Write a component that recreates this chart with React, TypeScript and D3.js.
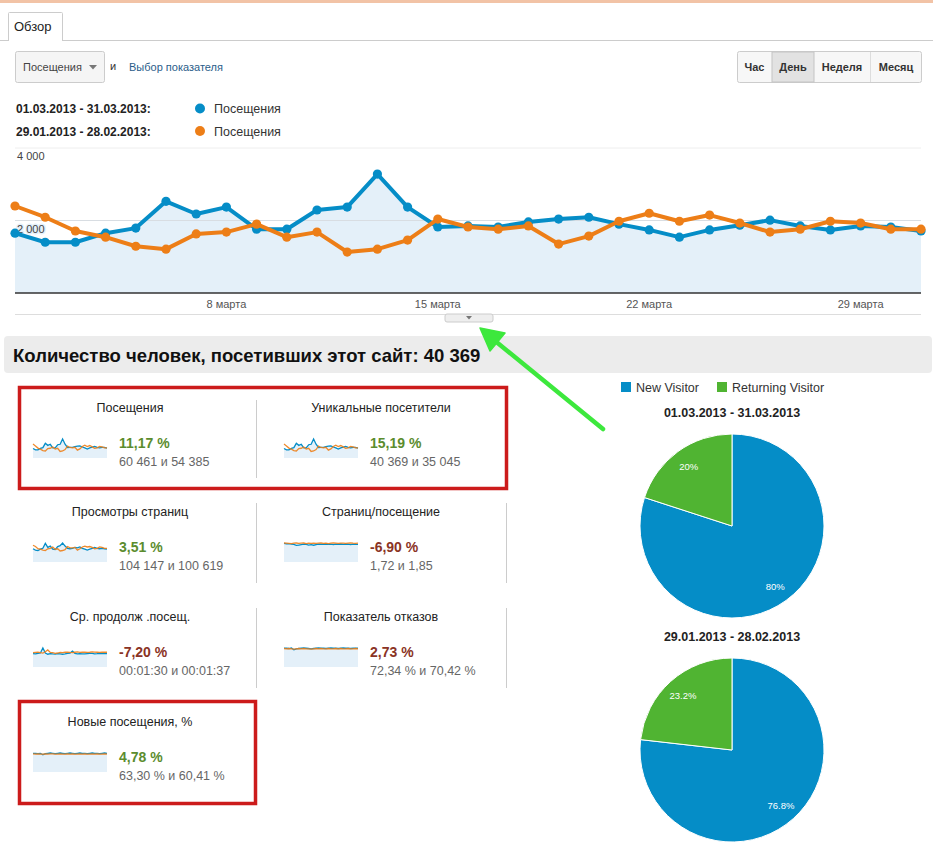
import * as d3 from 'd3'

const W = 933, H = 851
const FONT = '"Liberation Sans", Arial, sans-serif'
const BLUE = '#058dc7', ORANGE = '#ed7e17', GREEN = '#50b432'

// main chart: visits per day, March 2013 vs previous period
const VISITS_CUR = [1650, 1400, 1400, 1650, 1790, 2530, 2180, 2370, 1760, 1760, 2290, 2370, 3280, 2370, 1820, 1850,
  1820, 1960, 2040, 2090, 1900, 1740, 1540, 1740, 1870, 2010, 1850, 1740, 1850, 1820, 1710]
const VISITS_PREV = [2400, 2090, 1710, 1540, 1290, 1210, 1630, 1680, 1900, 1540, 1680, 1130, 1210, 1460, 2040, 1820,
  1760, 1850, 1350, 1570, 1980, 2200, 1980, 2150, 1930, 1680, 1760, 1980, 1930, 1760, 1760]
const X_TICKS = [8, 15, 22, 29]
const X_TICK_LABELS = ['8 марта', '15 марта', '22 марта', '29 марта']
const Y_TICKS = [2000, 4000]
const Y_TICK_LABELS = ['2 000', '4 000']

// sparklines for the metric cards
const PV_CUR = [3000, 2700, 2600, 2900, 3100, 4200, 3300, 3600, 2900, 2800, 3500, 3700, 4300, 3600, 3100, 3000,
  3100, 3300, 3200, 3400, 3100, 2900, 2700, 2900, 3100, 3300, 3100, 3000, 3100, 3000, 2900]
const PV_PREV = [3800, 3500, 3000, 2900, 2700, 2600, 3000, 3100, 3400, 2900, 3000, 2500, 2600, 2800, 3500, 3200,
  3200, 3300, 2700, 3000, 3400, 3600, 3400, 3500, 3300, 3000, 3100, 3400, 3300, 3100, 3100]
const PPV_CUR = [1.82, 1.78, 1.8, 1.76, 1.72, 1.62, 1.66, 1.7, 1.74, 1.72, 1.66, 1.7, 1.64, 1.7, 1.74, 1.75,
  1.72, 1.76, 1.72, 1.74, 1.7, 1.75, 1.73, 1.76, 1.72, 1.74, 1.75, 1.7, 1.74, 1.73, 1.72]
const PPV_PREV = [1.86, 1.84, 1.82, 1.8, 1.84, 1.86, 1.82, 1.84, 1.86, 1.8, 1.84, 1.83, 1.85, 1.82, 1.84, 1.86,
  1.83, 1.85, 1.8, 1.84, 1.86, 1.85, 1.83, 1.85, 1.84, 1.82, 1.85, 1.86, 1.84, 1.83, 1.85]
const AVD_CUR = [88, 86, 90, 92, 125, 92, 84, 88, 86, 85, 88, 86, 84, 86, 90, 92,
  105, 90, 86, 88, 87, 86, 88, 90, 89, 87, 88, 90, 88, 89, 88]
const AVD_PREV = [94, 96, 98, 95, 92, 100, 112, 96, 94, 90, 92, 96, 95, 97, 98, 96,
  95, 97, 99, 96, 97, 98, 96, 97, 99, 98, 97, 96, 98, 97, 97]
const BR_CUR = [72, 72, 71, 73, 66, 70, 71, 72, 73, 72, 71, 70, 71, 72, 73, 72,
  72, 71, 72, 73, 72, 72, 71, 72, 73, 72, 72, 71, 72, 72, 72]
const BR_PREV = [71, 70, 71, 70, 69, 70, 71, 70, 71, 70, 70, 69, 70, 71, 70, 71,
  70, 70, 71, 70, 70, 71, 70, 71, 70, 70, 71, 70, 70, 71, 70]
const NV_CUR = [63, 63, 62, 63, 58, 62, 63, 64, 63, 62, 63, 64, 63, 62, 63, 64,
  63, 62, 63, 64, 63, 63, 62, 63, 64, 63, 63, 62, 63, 64, 63]
const NV_PREV = [61, 60, 61, 60, 60, 61, 60, 61, 61, 60, 60, 61, 60, 60, 61, 60,
  61, 60, 60, 61, 60, 61, 60, 60, 61, 60, 61, 60, 60, 61, 60]

const METRIC_TITLES = ['Посещения', 'Уникальные посетители', 'Просмотры страниц', 'Страниц/посещение',
  'Ср. продолж .посещ.', 'Показатель отказов', 'Новые посещения, %']
const METRIC_PCTS = ['11,17 %', '15,19 %', '3,51 %', '-6,90 %', '-7,20 %', '2,73 %', '4,78 %']
const METRIC_VALUES = ['60 461 и 54 385', '40 369 и 35 045', '104 147 и 100 619', '1,72 и 1,85',
  '00:01:30 и 00:01:37', '72,34 % и 70,42 %', '63,30 % и 60,41 %']
const METRIC_GOOD = [true, true, true, false, false, false, true]
const METRIC_SERIES = [
  [VISITS_CUR, VISITS_PREV], [VISITS_CUR, VISITS_PREV], [PV_CUR, PV_PREV], [PPV_CUR, PPV_PREV],
  [AVD_CUR, AVD_PREV], [BR_CUR, BR_PREV], [NV_CUR, NV_PREV],
]

// visitor type pies
const PIE_LABELS = ['New Visitor', 'Returning Visitor']
const PIE_COLORS = [BLUE, GREEN]
const PIE_TITLES = ['01.03.2013 - 31.03.2013', '29.01.2013 - 28.02.2013']
const PIE_CUR = [80, 20]
const PIE_PREV = [76.8, 23.2]
const PIE_TEXT_CUR = ['80%', '20%']
const PIE_TEXT_PREV = ['76.8%', '23.2%']

function MainChart() {
  const x = d3.scaleLinear([1, 31], [15, 921])
  const y = d3.scaleLinear([0, 4000], [293, 148])
  const idx = d3.range(VISITS_CUR.length)
  const line = (s: number[]) => d3.line<number>().x(i => x(i + 1)).y(i => y(s[i]))(idx)!
  const area = d3.area<number>().x(i => x(i + 1)).y0(y(0)).y1(i => y(VISITS_CUR[i]))(idx)!
  return (
    <g>
      <line x1={15} x2={921} y1={y(4000)} y2={y(4000)} stroke="#eee" />
      <path d={area} fill="#e4f0f9" />
      <line x1={15} x2={921} y1={y(2000)} y2={y(2000)} stroke="#d8dde2" />
      {Y_TICKS.map((t, i) => (
        <text key={t} x={17} y={y(t) + 12} fontSize={11} fill="#444"
          stroke={t === 2000 ? '#e4f0f9' : 'none'} strokeWidth={3} paintOrder="stroke">{Y_TICK_LABELS[i]}</text>
      ))}
      {[[VISITS_CUR, BLUE], [VISITS_PREV, ORANGE]].map(([s, c], k) => (
        <g key={k}>
          <path d={line(s as number[])} fill="none" stroke={c as string} strokeWidth={4} strokeLinejoin="round" />
          {(s as number[]).map((v, i) => <circle key={i} cx={x(i + 1)} cy={y(v)} r={4.6} fill={c as string} />)}
        </g>
      ))}
      <line x1={15} x2={921} y1={y(0)} y2={y(0)} stroke="#333" strokeWidth={1.5} />
      {X_TICKS.map((t, i) => (
        <text key={t} x={x(t)} y={308} textAnchor="middle" fontSize={11} fill="#555">{X_TICK_LABELS[i]}</text>
      ))}
      <line x1={15} x2={921} y1={314.5} y2={314.5} stroke="#ddd" />
      <rect x={445} y={314} width={48} height={8} rx={2} fill="#eee" stroke="#ccc" />
      <path d="M466,316 L472,316 L469,319.5 Z" fill="#777" />
    </g>
  )
}

function Sparkline({ cur, prev, x0, y0 }: { cur: number[], prev: number[], x0: number, y0: number }) {
  const x = d3.scaleLinear([0, cur.length - 1], [x0, x0 + 74])
  const y = d3.scaleLinear([0, d3.max([...cur, ...prev])!], [y0 + 20, y0 + 1])
  const idx = d3.range(cur.length)
  const ln = (s: number[]) => d3.line<number>().x(i => x(i)).y(i => y(s[i]))(idx)!
  const ar = d3.area<number>().x(i => x(i)).y0(y0 + 20).y1(i => y(cur[i]))(idx)!
  return (
    <g>
      <path d={ar} fill="#e4f0f9" />
      <path d={ln(cur)} fill="none" stroke={BLUE} strokeWidth={1.3} />
      <path d={ln(prev)} fill="none" stroke={ORANGE} strokeWidth={1.3} opacity={0.9} />
    </g>
  )
}

function Metrics() {
  const rowY = [408, 512, 617, 722]
  return (
    <g>
      {METRIC_TITLES.map((t, i) => {
        const col = i % 2, row = Math.floor(i / 2)
        const cx = col === 0 ? 130 : 381
        const left = col === 0 ? 33 : 284
        const ty = rowY[row]
        return (
          <g key={i}>
            <text x={cx} y={ty + 4} textAnchor="middle" fontSize={12.5} fill="#222">{t}</text>
            <Sparkline cur={METRIC_SERIES[i][0]} prev={METRIC_SERIES[i][1]} x0={left} y0={ty + 30} />
            <text x={left + 86} y={ty + 40} fontSize={14} fontWeight="bold"
              fill={METRIC_GOOD[i] ? '#5b8c2e' : '#8a3324'}>{METRIC_PCTS[i]}</text>
            <text x={left + 86} y={ty + 58} fontSize={12.5} fill="#666">{METRIC_VALUES[i]}</text>
          </g>
        )
      })}
      <line x1={256.5} x2={256.5} y1={400} y2={478} stroke="#ccc" />
      <line x1={256.5} x2={256.5} y1={503} y2={583} stroke="#ccc" />
      <line x1={256.5} x2={256.5} y1={608} y2={688} stroke="#ccc" />
      <line x1={506.5} x2={506.5} y1={503} y2={583} stroke="#ccc" />
      <line x1={506.5} x2={506.5} y1={608} y2={688} stroke="#ccc" />
      <rect x={19.5} y={387.5} width={487} height={101} fill="none" stroke="#cc1b1b" strokeWidth={3.5} />
      <rect x={19.5} y={701.5} width={236} height={102} fill="none" stroke="#cc1b1b" strokeWidth={3.5} />
    </g>
  )
}

function Pie({ values, texts, title, cy }: { values: number[], texts: string[], title: string, cy: number }) {
  const cx = 732, r = 92
  const arcs = d3.pie<number>().sort(null)(values)
  const arc = d3.arc<d3.PieArcDatum<number>>().innerRadius(0).outerRadius(r)
  const lab = d3.arc<d3.PieArcDatum<number>>().innerRadius(r * 0.8).outerRadius(r * 0.8)
  return (
    <g>
      <text x={cx} y={cy - 109} textAnchor="middle" fontSize={12.5} fontWeight="bold" fill="#222">{title}</text>
      <g transform={`translate(${cx},${cy})`}>
        {arcs.map((a, i) => <path key={i} d={arc(a)!} fill={PIE_COLORS[i]} stroke="#fff" strokeWidth={1} />)}
        {arcs.map((a, i) => {
          const [lx, ly] = lab.centroid(a)
          return <text key={i} x={lx} y={ly + 4} textAnchor="middle" fontSize={9.5} fill="#fff">{texts[i]}</text>
        })}
      </g>
    </g>
  )
}

export default function App() {
  return (
    <svg width={W} height={H} viewBox={`0 0 ${W} ${H}`} fontFamily={FONT}
      style={{ position: 'absolute', left: 0, top: 0, background: '#fff' }}>
      <rect width={W} height={H} fill="#fff" />
      <rect x={0} y={0} width={W} height={3} fill="#f2c3a6" />
      {/* tab */}
      <line x1={0} x2={W} y1={40.5} y2={40.5} stroke="#ccc" />
      <path d="M8.5,41 L8.5,13.5 Q8.5,12.5 9.5,12.5 L61.5,12.5 Q62.5,12.5 62.5,13.5 L62.5,41" fill="#fff" stroke="#ccc" />
      <rect x={9} y={39} width={53} height={3} fill="#fff" />
      <text x={14} y={31} fontSize={13} fill="#222">Обзор</text>
      {/* metric selector */}
      <rect x={15.5} y={51.5} width={89} height={31} rx={2} fill="#f5f5f5" stroke="#ccc" />
      <text x={23} y={71} fontSize={11} fill="#444">Посещения</text>
      <path d="M89,65 L97,65 L93,69.5 Z" fill="#777" />
      <text x={110} y={70} fontSize={11} fill="#333">и</text>
      <text x={129} y={71} fontSize={11} fill="#2a5d8a">Выбор показателя</text>
      {/* period buttons */}
      <rect x={737.5} y={51.5} width={184} height={31} rx={2} fill="#f7f7f7" stroke="#ccc" />
      <rect x={772} y={52} width={42} height={30} fill="#e2e2e2" stroke="#c4c4c4" />
      <line x1={870.5} x2={870.5} y1={52} y2={82} stroke="#ddd" />
      {[['Час', 754.5], ['День', 793], ['Неделя', 842], ['Месяц', 896]].map(([t, px]) => (
        <text key={t as string} x={px as number} y={71} textAnchor="middle" fontSize={11} fontWeight="bold" fill="#333">{t}</text>
      ))}
      {/* legend */}
      <text x={16} y={113} fontSize={12} fontWeight="bold" fill="#222">01.03.2013 - 31.03.2013:</text>
      <text x={16} y={136} fontSize={12} fontWeight="bold" fill="#222">29.01.2013 - 28.02.2013:</text>
      <circle cx={200} cy={108.5} r={5} fill={BLUE} />
      <circle cx={200} cy={131} r={5} fill={ORANGE} />
      <text x={214} y={113} fontSize={12.5} fill="#333">Посещения</text>
      <text x={214} y={136} fontSize={12.5} fill="#333">Посещения</text>
      <MainChart />
      {/* heading */}
      <rect x={4} y={336} width={928} height={37} rx={4} fill="#ececec" />
      <text x={13} y={362} fontSize={18.5} fontWeight="bold" fill="#111">Количество человек, посетивших этот сайт: 40 369</text>
      {/* arrow */}
      <line x1={603} y1={429} x2={494} y2={340} stroke="#3de83d" strokeWidth={4.5} strokeLinecap="round" />
      <path d="M480,328 L505,333 L490,351 Z" fill="#3de83d" stroke="#3de83d" strokeWidth={1.5} strokeLinejoin="round" />
      <Metrics />
      {/* pie legend */}
      {PIE_LABELS.map((l, i) => (
        <g key={l}>
          <rect x={i === 0 ? 621 : 717} y={382} width={10} height={10} fill={PIE_COLORS[i]} />
          <text x={i === 0 ? 636 : 732} y={392} fontSize={12.5} fill="#333">{l}</text>
        </g>
      ))}
      <Pie values={PIE_CUR} texts={PIE_TEXT_CUR} title={PIE_TITLES[0]} cy={526} />
      <Pie values={PIE_PREV} texts={PIE_TEXT_PREV} title={PIE_TITLES[1]} cy={750} />
    </svg>
  )
}
